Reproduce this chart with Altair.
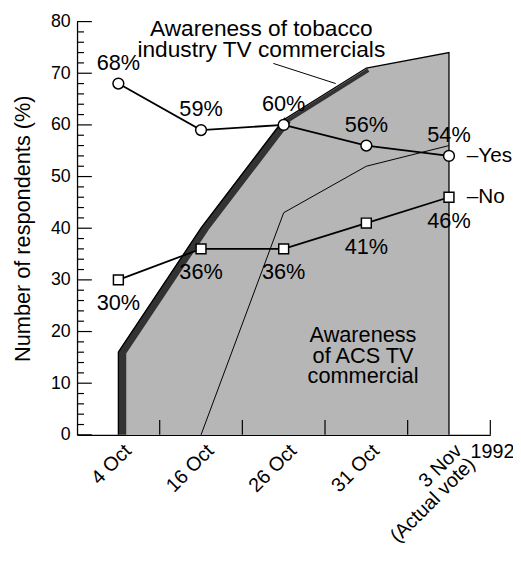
import altair as alt
import pandas as pd

# ---- data ----
dates = ["4 Oct", "16 Oct", "26 Oct", "31 Oct", "3 Nov\n(Actual vote)"]
pos = [0, 1, 2, 3, 4]
tobacco = [16, 40, 61, 71, 74]          # awareness of tobacco industry TV commercials
acs_pos = [1, 2, 3, 4]
acs = [0, 43, 52, 56]                    # awareness of ACS TV commercial
yes = [68, 59, 60, 56, 54]
no = [30, 36, 36, 41, 46]
y_major = [0, 10, 20, 30, 40, 50, 60, 70, 80]
y_minor = [v for v in range(0, 81, 2) if v % 10]
x_bounds = [0.5, 1.5, 2.5, 3.5, 4.5]

W, H = 419, 419
FONT = "Liberation Sans"

xs = alt.Scale(domain=[-0.5, 4.5], nice=False, zero=False)
ys = alt.Scale(domain=[0, 80], nice=False)

def X(f="idx", **kw):
    return alt.X(f, type="quantitative", scale=xs, **kw)

def Y(f="val", **kw):
    return alt.Y(f, type="quantitative", scale=ys, **kw)

area_df = pd.DataFrame({"idx": pos, "val": tobacco})
outline_df = pd.DataFrame({
    "idx": [pos[0]] + pos + [pos[-1]],
    "val": [0] + tobacco + [0],
    "o": list(range(len(pos) + 2)),
})
dark_df = pd.DataFrame({"idx": [0] + pos[:3], "val": [0] + tobacco[:3], "o": [0, 1, 2, 3]})
dark2_df = pd.DataFrame({"idx": pos[2:4], "val": tobacco[2:4]})
acs_df = pd.DataFrame({"idx": acs_pos, "val": acs})
yes_df = pd.DataFrame({"idx": pos, "val": yes})
no_df = pd.DataFrame({"idx": pos, "val": no})
date_df = pd.DataFrame({"idx": pos, "lab": dates})

area = alt.Chart(area_df).mark_area(color="#b6b6b6", opacity=1).encode(
    x=X(axis=alt.Axis(labels=False, ticks=False, tickSize=0, domain=True, domainColor="black",
                      domainWidth=1.3, grid=False, title=None)),
    y=Y(axis=alt.Axis(values=y_major, ticks=False, tickSize=0, labelPadding=7, grid=False,
                      domainColor="black", domainWidth=1.3, labelFontSize=18, labelColor="black",
                      title="Number of respondents (%)", titleFontSize=22, titleFontWeight="normal",
                      titleColor="black", titlePadding=16)),
)

dark = alt.Chart(dark_df).mark_line(color="#333333", strokeWidth=8, xOffset=4, strokeCap="butt").encode(
    x=X(), y=Y(), order="o:Q")
dark2 = alt.Chart(dark2_df).mark_line(color="#333333", strokeWidth=4, xOffset=2, yOffset=2).encode(
    x=X(), y=Y())
outline = alt.Chart(outline_df).mark_line(color="black", strokeWidth=1.3).encode(
    x=X(), y=Y(), order="o:Q")
acs_line = alt.Chart(acs_df).mark_line(color="black", strokeWidth=1).encode(x=X(), y=Y())

yes_line = alt.Chart(yes_df).mark_line(color="black", strokeWidth=1.8).encode(x=X(), y=Y())
yes_pts = alt.Chart(yes_df).mark_point(shape="circle", filled=True, fill="white", stroke="black",
                                        strokeWidth=1.5, size=120, opacity=1).encode(x=X(), y=Y())
no_line = alt.Chart(no_df).mark_line(color="black", strokeWidth=1.8).encode(x=X(), y=Y())
no_pts = alt.Chart(no_df).mark_point(shape="square", filled=True, fill="white", stroke="black",
                                      strokeWidth=1.5, size=100, opacity=1).encode(x=X(), y=Y())

yes_lab = alt.Chart(yes_df).transform_calculate(t="datum.val + '%'").mark_text(
    font=FONT, fontSize=22, dy=-21, color="black").encode(x=X(), y=Y(), text="t:N")
no_lab = alt.Chart(no_df).transform_calculate(t="datum.val + '%'").mark_text(
    font=FONT, fontSize=22, dy=24, color="black").encode(x=X(), y=Y(), text="t:N")

yes_key = alt.Chart(yes_df.tail(1)).mark_text(font=FONT, fontSize=21, align="left", dx=18,
                                               color="black").encode(x=X(), y=Y(), text=alt.value("\u2013Yes"))
no_key = alt.Chart(no_df.tail(1)).mark_text(font=FONT, fontSize=21, align="left", dx=18,
                                             color="black").encode(x=X(), y=Y(), text=alt.value("\u2013No"))

# axis ticks (drawn inward)
ytick_major = alt.Chart(pd.DataFrame({"val": y_major})).mark_rule(color="black", strokeWidth=1.2).encode(
    y=Y(), x=alt.value(0), x2=alt.value(15))
ytick_minor = alt.Chart(pd.DataFrame({"val": y_minor})).mark_rule(color="black", strokeWidth=1.2).encode(
    y=Y(), x=alt.value(0), x2=alt.value(7))
xtick = alt.Chart(pd.DataFrame({"idx": x_bounds})).mark_rule(color="black", strokeWidth=1.2).encode(
    x=X(), y=alt.value(H), y2=alt.value(H - 15))

xlab = alt.Chart(date_df).mark_text(font=FONT, fontSize=20, angle=315, align="right", baseline="top",
                                    lineBreak="\n", lineHeight=19, dx=4, color="black").encode(
    x=X(), y=alt.value(H + 9), text="lab:N")
year = alt.Chart(pd.DataFrame({"idx": [4.5], "t": ["1992"]})).mark_text(
    font=FONT, fontSize=20, align="left", dx=-20, color="black").encode(
    x=X(), y=alt.value(H + 17), text="t:N")

ann1 = alt.Chart(pd.DataFrame({"idx": [1.73], "val": [78.6],
                               "t": ["Awareness of tobacco\nindustry TV commercials"]})).mark_text(
    font=FONT, fontSize=23, lineBreak="\n", lineHeight=22, color="black").encode(x=X(), y=Y(), text="t:N")
lead = alt.Chart(pd.DataFrame({"idx": [1.875, 2.63], "val": [71.9, 68.0]})).mark_line(
    color="black", strokeWidth=1).encode(x=X(), y=Y())
ann2 = alt.Chart(pd.DataFrame({"idx": [2.96], "val": [19.3],
                               "t": ["Awareness\nof ACS TV\ncommercial"]})).mark_text(
    font=FONT, fontSize=22, lineBreak="\n", lineHeight=21, color="black").encode(x=X(), y=Y(), text="t:N")

chart = alt.layer(
    area, dark, dark2, outline, acs_line, ytick_major, ytick_minor, xtick,
    yes_line, no_line, yes_pts, no_pts, yes_lab, no_lab, yes_key, no_key,
    xlab, year, ann1, lead, ann2,
).properties(
    width=W, height=H,
    padding={"left": 70, "top": 10, "right": 23, "bottom": 115},
    autosize=alt.AutoSizeParams(type="none"),
    background="white",
).configure_view(stroke=None).configure_axis(labelFont=FONT, titleFont=FONT)

chart.save("out.html", embed_options={"renderer": "svg", "actions": False})
